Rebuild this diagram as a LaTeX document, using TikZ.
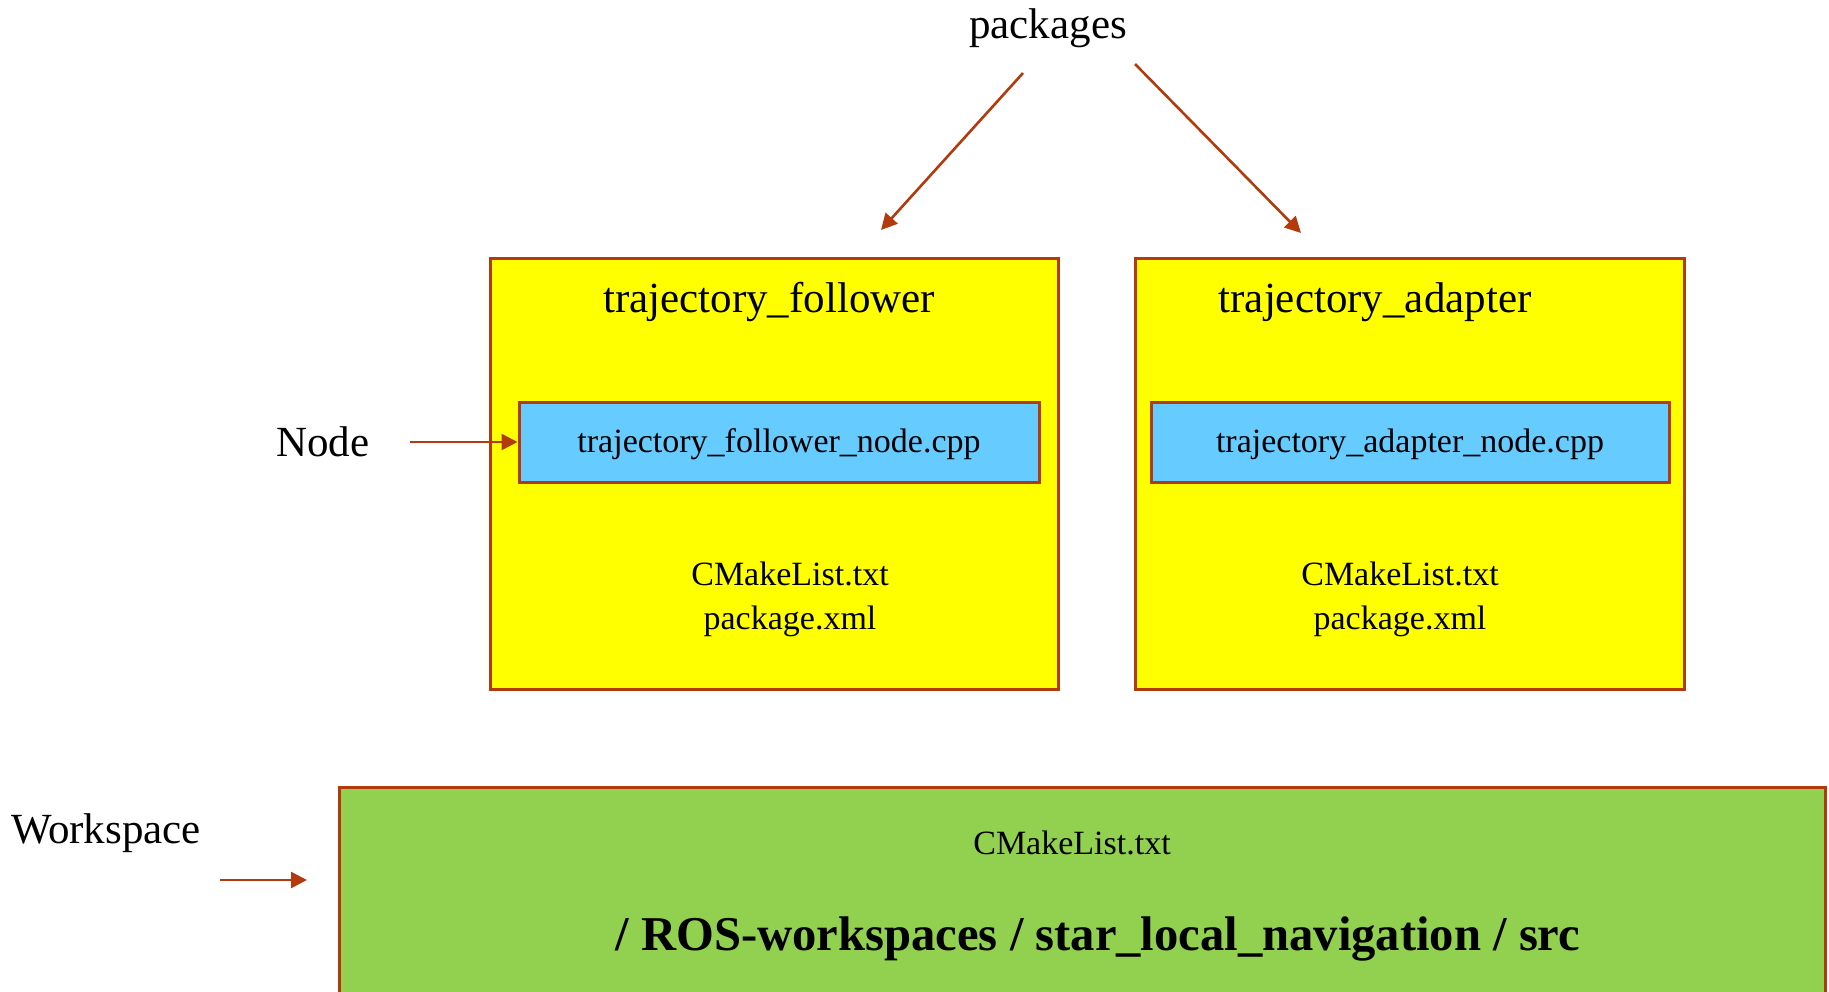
\documentclass[tikz,border=0pt]{standalone}
\usepackage{fontspec}
\setmainfont{Liberation Serif}
\usepackage{tikz}
\usetikzlibrary{arrows.meta,positioning}
\definecolor{rosred}{RGB}{178,58,12}
\definecolor{pkgyellow}{RGB}{255,255,0}
\definecolor{nodeblue}{RGB}{102,204,255}
\definecolor{wsgreen}{RGB}{146,208,80}
\tikzstyle{pkgbox}=[draw=rosred,line width=1.5pt,fill=pkgyellow,minimum height=215.5pt,inner sep=0pt]
\tikzstyle{cppbox}=[draw=rosred,line width=1.5pt,fill=nodeblue,minimum height=40pt,inner sep=0pt,font=\fontsize{17}{20}\selectfont]
\tikzstyle{wsbox}=[draw=rosred,line width=1.5pt,fill=wsgreen,minimum width=743pt,minimum height=111.5pt,inner sep=0pt]
\tikzstyle{bigtext}=[font=\fontsize{21.5}{25}\selectfont,inner sep=0pt]
\tikzstyle{filetext}=[font=\fontsize{17}{22}\selectfont,align=center,inner sep=0pt]
\tikzstyle{arr}=[draw=rosred,line width=1.3pt,-{Triangle[length=8pt,width=8pt]}]

\begin{document}
\begin{tikzpicture}[x=0.5pt,y=-0.5pt]
    \useasboundingbox (0,0) rectangle (1829,991);
    % First we draw the package boxes with their files
    \foreach \name/\cx/\w/\tx/\nx/\nw/\fx in {follower/774/284/769/779/260/790, adapter/1409.5/274.5/1375/1410/259/1400}
    {
        \node[pkgbox,minimum width=\w pt] (\name) at (\cx,473.5) {};
        \node[bigtext] (\name title) at (\tx,302) {trajectory\_\name};
        \node[cppbox,minimum width=\nw pt] (\name node) at (\nx,442) {\raisebox{-1.3pt}[\height][\depth]{trajectory\_\name\_node.cpp}};
        \node[filetext] (\name files) at (\fx,599) {CMakeList.txt\\package.xml};
    }
    % The workspace at the bottom
    \node[wsbox] (ws) at (1082,898.5) {};
    \node[filetext] (wsfile) at (1072,843) {CMakeList.txt};
    \node[font=\fontsize{24.3}{28}\selectfont\bfseries,inner sep=0pt] (srcpath) at (1098,939) {/ ROS-workspaces / star\_local\_navigation / src};
    % Labels on the outside
    \node[bigtext] (packages) at (1048,28) {packages};
    \node[bigtext] (nodelbl) at (323,442) {Node};
    \node[bigtext] (workspace) at (106,833) {Workspace};
    % Tips of the free arrows
    \coordinate (pkgleft) at (1023,73);
    \coordinate (pkgright) at (1135,64);
    \coordinate (followertip) at (881,230);
    \coordinate (adaptertip) at (1301,233);
    \coordinate (wsstart) at (220,880);
    \coordinate (wstip) at (307,880);
    % Connect the labels with arrows
    \draw[arr] (pkgleft) -- (followertip);
    \draw[arr] (pkgright) -- (adaptertip);
    \draw[arr] ([xshift=20pt]nodelbl.east) -- (followernode.west);
    \draw[arr] (wsstart) -- (wstip);
\end{tikzpicture}
\end{document}
